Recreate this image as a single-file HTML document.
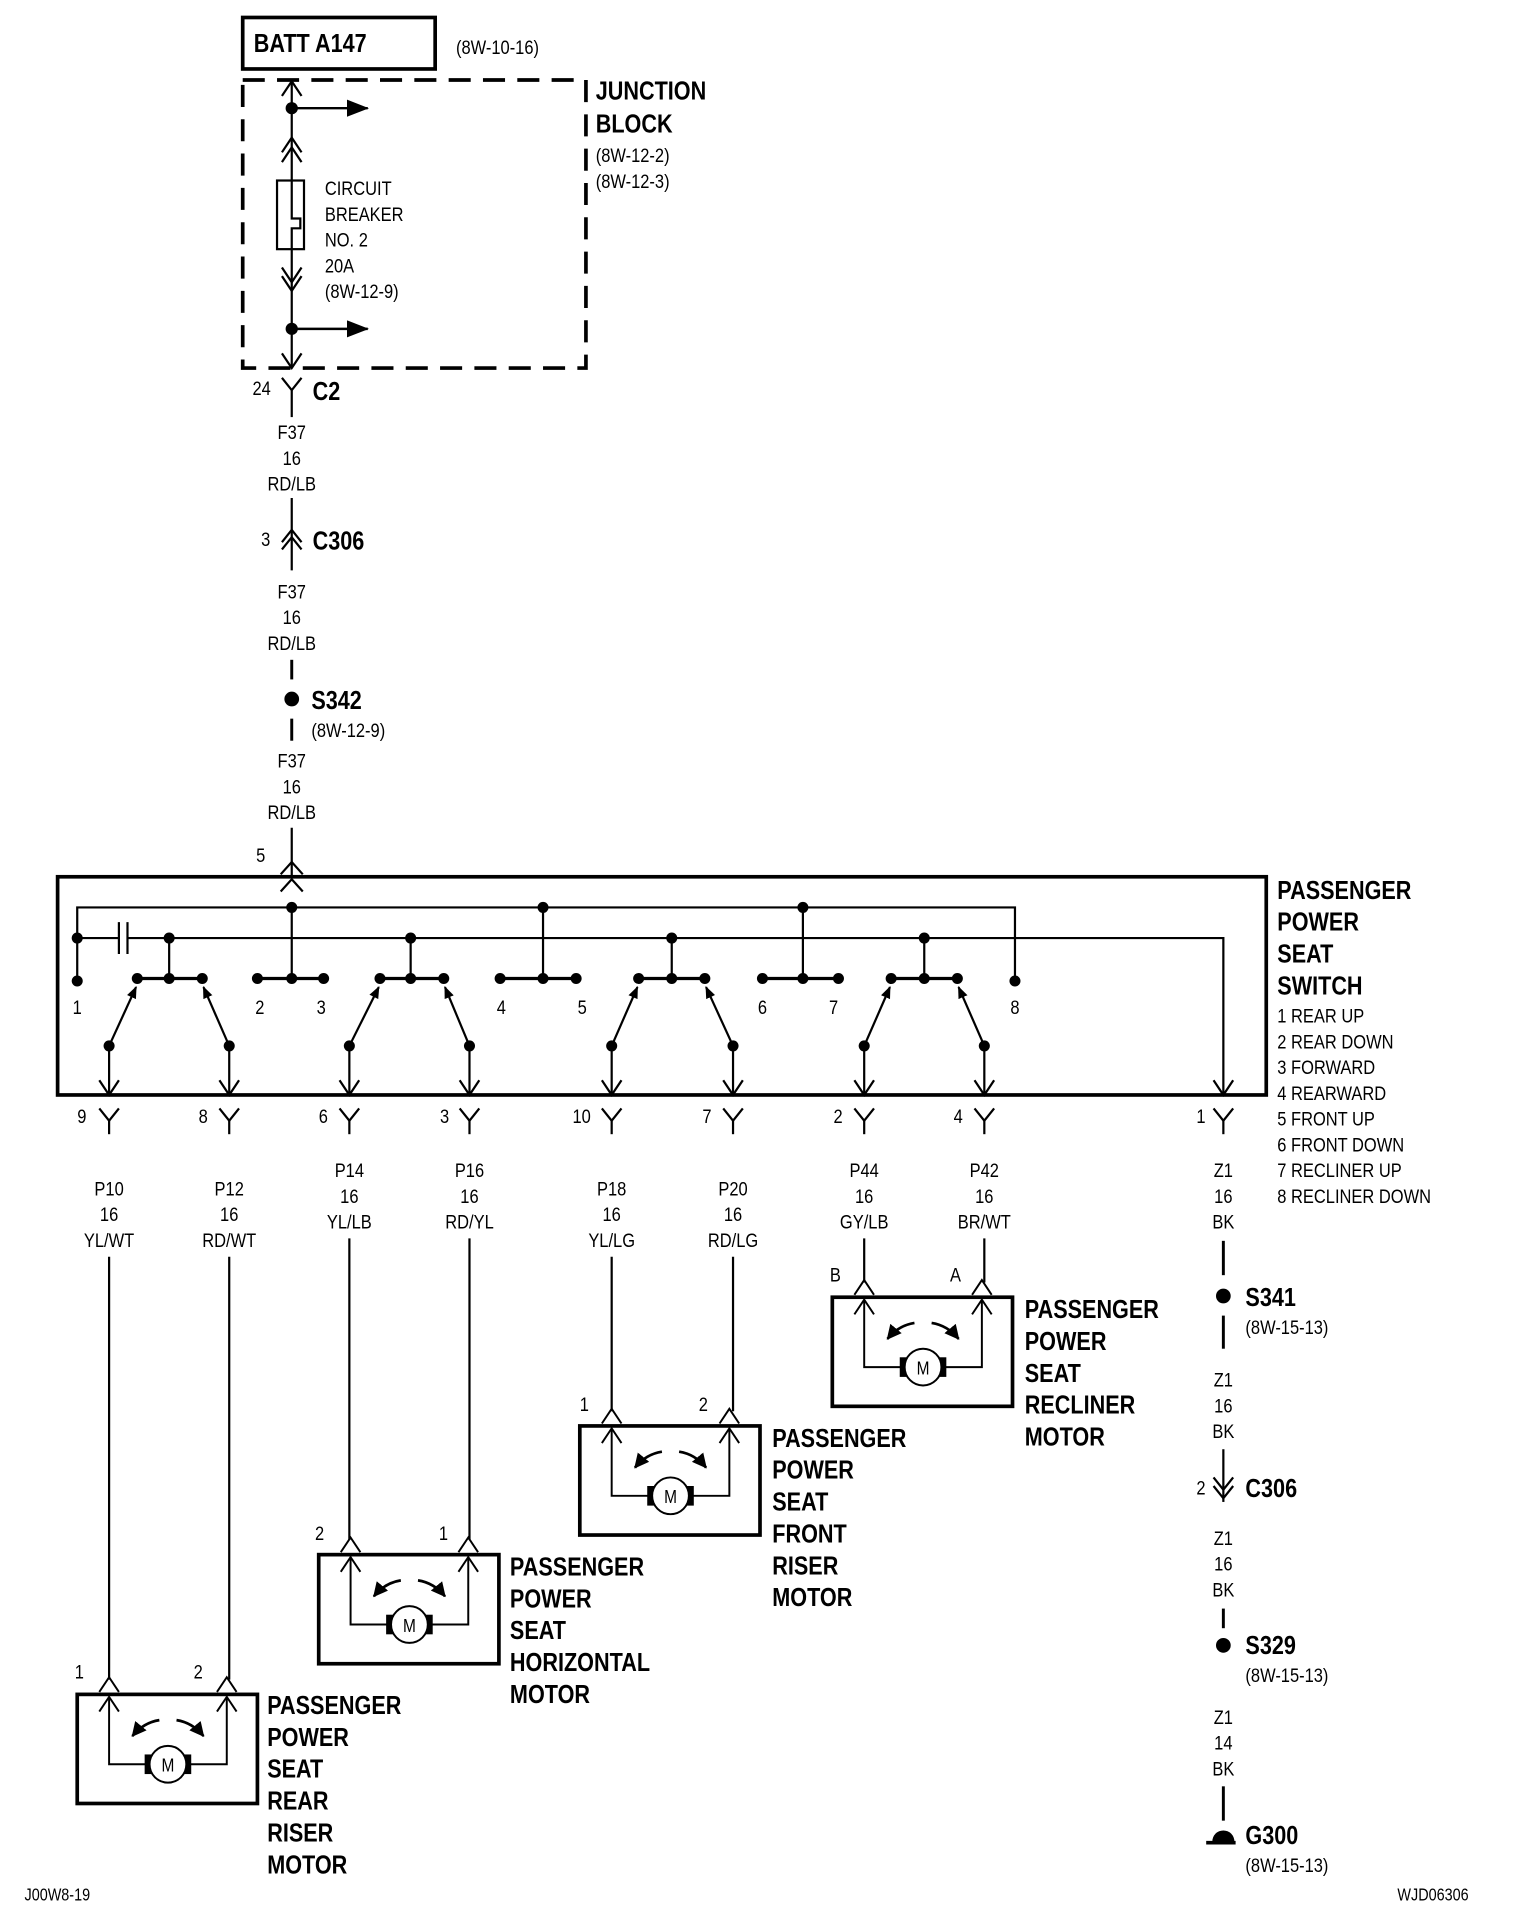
<!DOCTYPE html>
<html><head><meta charset="utf-8"><style>
html,body{margin:0;padding:0;background:#fff;}
svg{display:block;}
text{font-family:"Liberation Sans",sans-serif;fill:#000;transform-box:fill-box;transform-origin:left center;transform:scaleX(0.84);}
.r{font-size:16px;}
.b{font-size:21px;font-weight:bold;}
.m{text-anchor:middle;}
.m text, text.m{transform-origin:center;}
</style></head><body>
<svg width="1520" height="1908" viewBox="0 0 1240 1556" xmlns="http://www.w3.org/2000/svg">
<defs>
<marker id="ah" markerWidth="10" markerHeight="10" refX="9" refY="5" orient="auto" markerUnits="userSpaceOnUse"><path d="M0,1 L10,5 L0,9 z" fill="#000"/></marker>
<marker id="big" markerWidth="18" markerHeight="14" refX="17" refY="7" orient="auto" markerUnits="userSpaceOnUse"><path d="M0,0 L18,7 L0,14 z" fill="#000"/></marker>
<marker id="ma" markerWidth="12" markerHeight="12" refX="11" refY="6" orient="auto" markerUnits="userSpaceOnUse"><path d="M0,0 L12,6 L0,12 z" fill="#000"/></marker>
<g id="motor" fill="none" stroke="#000">
 <rect x="0" y="0" width="147" height="89" stroke-width="3"/>
 <polyline points="18,-2 26,-14 34,-2" stroke-width="1.6"/>
 <polyline points="18,14 26,2 34,14" stroke-width="1.6"/>
 <polyline points="114,-2 122,-14 130,-2" stroke-width="1.6"/>
 <polyline points="114,14 122,2 130,14" stroke-width="1.6"/>
 <polyline points="26,2 26,57 58,57" stroke-width="1.6"/>
 <polyline points="122,2 122,57 90,57" stroke-width="1.6"/>
 <rect x="55" y="49" width="9" height="16" fill="#000" stroke="none"/>
 <rect x="84" y="49" width="9" height="16" fill="#000" stroke="none"/>
 <circle cx="74" cy="57" r="15" stroke-width="1.6" fill="#fff"/>
 <path d="M67,21 Q54,23 45,34" stroke-width="2.2" marker-end="url(#ma)"/>
 <path d="M81,21 Q94,23 103,34" stroke-width="2.2" marker-end="url(#ma)"/>
</g>
</defs>

<g fill="none" stroke="#000" stroke-width="1.8">
<rect x="198" y="14" width="157" height="42" stroke-width="3"/>
<rect x="198" y="65" width="280" height="235" stroke-width="3" stroke-dasharray="18,10"/>
<line x1="238" y1="65" x2="238" y2="300"/>
<polyline points="230,78 238,66 246,78"/>
<line x1="238" y1="88" x2="300" y2="88" marker-end="url(#big)" stroke-width="2"/>
<polyline points="230,124 238,112 246,124"/>
<polyline points="230,132 238,120 246,132"/>
<rect x="226" y="147" width="22" height="56" fill="#fff"/>
<polyline points="238,147 238,178 245,178 245,186 238,186 238,203"/>
<polyline points="230,218 238,230 246,218"/>
<polyline points="230,225 238,237 246,225"/>
<line x1="238" y1="268" x2="300" y2="268" marker-end="url(#big)" stroke-width="2"/>
<polyline points="230,288 238,300 246,288"/>
<polyline points="230,308 238,318 246,308"/>
<line x1="238" y1="318" x2="238" y2="340"/>
<line x1="238" y1="406" x2="238" y2="465"/>
<polyline points="230,442 238,432 246,442"/>
<polyline points="230,448 238,438 246,448"/>
<line x1="238" y1="538" x2="238" y2="554" stroke-width="2.4"/>
<line x1="238" y1="586" x2="238" y2="604" stroke-width="2.4"/>
<line x1="238" y1="675" x2="238" y2="715"/>
<polyline points="229,713 238,703 247,713"/>

<rect x="47" y="715" width="986" height="178" stroke-width="3"/>
<polyline points="229,727 238,717 247,727"/>
<polyline points="63,800 63,740 828,740 828,800"/>
<line x1="238" y1="740" x2="238" y2="798"/>
<line x1="443" y1="740" x2="443" y2="798"/>
<line x1="655" y1="740" x2="655" y2="798"/>
<line x1="63" y1="765" x2="97" y2="765"/>
<line x1="97" y1="752" x2="97" y2="778"/>
<line x1="104" y1="752" x2="104" y2="778"/>
<polyline points="104,765 998,765 998,893"/>
<polyline points="990,881 998,893 1006,881"/>
<line x1="138" y1="765" x2="138" y2="798"/>
<line x1="335" y1="765" x2="335" y2="798"/>
<line x1="548" y1="765" x2="548" y2="798"/>
<line x1="754" y1="765" x2="754" y2="798"/>
<g stroke-width="2.6">
<line x1="112" y1="798" x2="165" y2="798"/>
<line x1="210" y1="798" x2="264" y2="798"/>
<line x1="310" y1="798" x2="362" y2="798"/>
<line x1="408" y1="798" x2="470" y2="798"/>
<line x1="521" y1="798" x2="575" y2="798"/>
<line x1="622" y1="798" x2="684" y2="798"/>
<line x1="727" y1="798" x2="781" y2="798"/>
</g>
<line x1="89" y1="853" x2="111" y2="805" marker-end="url(#ah)"/>
<line x1="187" y1="853" x2="166" y2="805" marker-end="url(#ah)"/>
<line x1="285" y1="853" x2="309" y2="805" marker-end="url(#ah)"/>
<line x1="383" y1="853" x2="363" y2="805" marker-end="url(#ah)"/>
<line x1="499" y1="853" x2="520" y2="805" marker-end="url(#ah)"/>
<line x1="598" y1="853" x2="576" y2="805" marker-end="url(#ah)"/>
<line x1="705" y1="853" x2="726" y2="805" marker-end="url(#ah)"/>
<line x1="803" y1="853" x2="782" y2="805" marker-end="url(#ah)"/>
<g>
<line x1="89" y1="853" x2="89" y2="893"/><polyline points="81,881 89,893 97,881"/>
<line x1="187" y1="853" x2="187" y2="893"/><polyline points="179,881 187,893 195,881"/>
<line x1="285" y1="853" x2="285" y2="893"/><polyline points="277,881 285,893 293,881"/>
<line x1="383" y1="853" x2="383" y2="893"/><polyline points="375,881 383,893 391,881"/>
<line x1="499" y1="853" x2="499" y2="893"/><polyline points="491,881 499,893 507,881"/>
<line x1="598" y1="853" x2="598" y2="893"/><polyline points="590,881 598,893 606,881"/>
<line x1="705" y1="853" x2="705" y2="893"/><polyline points="697,881 705,893 713,881"/>
<line x1="803" y1="853" x2="803" y2="893"/><polyline points="795,881 803,893 811,881"/>
</g>
<g>
<polyline points="81,904 89,914 97,904"/><line x1="89" y1="914" x2="89" y2="925"/>
<polyline points="179,904 187,914 195,904"/><line x1="187" y1="914" x2="187" y2="925"/>
<polyline points="277,904 285,914 293,904"/><line x1="285" y1="914" x2="285" y2="925"/>
<polyline points="375,904 383,914 391,904"/><line x1="383" y1="914" x2="383" y2="925"/>
<polyline points="491,904 499,914 507,904"/><line x1="499" y1="914" x2="499" y2="925"/>
<polyline points="590,904 598,914 606,904"/><line x1="598" y1="914" x2="598" y2="925"/>
<polyline points="697,904 705,914 713,904"/><line x1="705" y1="914" x2="705" y2="925"/>
<polyline points="795,904 803,914 811,904"/><line x1="803" y1="914" x2="803" y2="925"/>
<polyline points="990,904 998,914 1006,904"/><line x1="998" y1="914" x2="998" y2="925"/>
</g>
<line x1="89" y1="1025" x2="89" y2="1370"/>
<line x1="187" y1="1025" x2="187" y2="1370"/>
<line x1="285" y1="1010" x2="285" y2="1256"/>
<line x1="383" y1="1010" x2="383" y2="1256"/>
<line x1="499" y1="1025" x2="499" y2="1151"/>
<line x1="598" y1="1025" x2="598" y2="1151"/>
<line x1="705" y1="1010" x2="705" y2="1046"/>
<line x1="803" y1="1010" x2="803" y2="1046"/>
<line x1="998" y1="1012" x2="998" y2="1040" stroke-width="2.4"/>
<line x1="998" y1="1073" x2="998" y2="1100" stroke-width="2.4"/>
<line x1="998" y1="1182" x2="998" y2="1225"/>
<polyline points="990,1205 998,1215 1006,1205"/>
<polyline points="990,1212 998,1222 1006,1212"/>
<line x1="998" y1="1312" x2="998" y2="1328" stroke-width="2.4"/>
<line x1="998" y1="1457" x2="998" y2="1485" stroke-width="2.4"/>
<line x1="984" y1="1503" x2="1008" y2="1503" stroke-width="3"/>
</g>

<g fill="#000">
<circle cx="238" cy="88" r="5"/><circle cx="238" cy="268" r="5"/>
<circle cx="238" cy="570" r="6"/>
<circle cx="238" cy="740" r="4.5"/><circle cx="443" cy="740" r="4.5"/><circle cx="655" cy="740" r="4.5"/>
<circle cx="63" cy="765" r="4.5"/><circle cx="138" cy="765" r="4.5"/><circle cx="335" cy="765" r="4.5"/><circle cx="548" cy="765" r="4.5"/><circle cx="754" cy="765" r="4.5"/>
<circle cx="63" cy="800" r="4.5"/><circle cx="828" cy="800" r="4.5"/>
<circle cx="112" cy="798" r="4.5"/><circle cx="138" cy="798" r="4.5"/><circle cx="165" cy="798" r="4.5"/>
<circle cx="210" cy="798" r="4.5"/><circle cx="238" cy="798" r="4.5"/><circle cx="264" cy="798" r="4.5"/>
<circle cx="310" cy="798" r="4.5"/><circle cx="335" cy="798" r="4.5"/><circle cx="362" cy="798" r="4.5"/>
<circle cx="408" cy="798" r="4.5"/><circle cx="443" cy="798" r="4.5"/><circle cx="470" cy="798" r="4.5"/>
<circle cx="521" cy="798" r="4.5"/><circle cx="548" cy="798" r="4.5"/><circle cx="575" cy="798" r="4.5"/>
<circle cx="622" cy="798" r="4.5"/><circle cx="655" cy="798" r="4.5"/><circle cx="684" cy="798" r="4.5"/>
<circle cx="727" cy="798" r="4.5"/><circle cx="754" cy="798" r="4.5"/><circle cx="781" cy="798" r="4.5"/>
<circle cx="89" cy="853" r="4.5"/><circle cx="187" cy="853" r="4.5"/><circle cx="285" cy="853" r="4.5"/><circle cx="383" cy="853" r="4.5"/>
<circle cx="499" cy="853" r="4.5"/><circle cx="598" cy="853" r="4.5"/><circle cx="705" cy="853" r="4.5"/><circle cx="803" cy="853" r="4.5"/>
<circle cx="998" cy="1057" r="6"/><circle cx="998" cy="1342" r="6"/>
<path d="M989,1502 A9,9 0 0 1 1007,1502 z"/>
</g>

<use href="#motor" x="679" y="1058"/>
<use href="#motor" x="473" y="1163"/>
<use href="#motor" x="260" y="1268"/>
<use href="#motor" x="63" y="1382"/>
<g class="r m" style="font-size:15px">
<text x="753" y="1121">M</text><text x="547" y="1226">M</text><text x="334" y="1331">M</text><text x="137" y="1445">M</text>
</g>

<text class="b" x="207" y="42">BATT A147</text>
<text class="r" x="372" y="44">(8W-10-16)</text>
<text class="b" x="486" y="81">JUNCTION</text>
<text class="b" x="486" y="108">BLOCK</text>
<text class="r" x="486" y="132">(8W-12-2)</text>
<text class="r" x="486" y="153">(8W-12-3)</text>
<text class="r" x="265" y="159">CIRCUIT</text>
<text class="r" x="265" y="180">BREAKER</text>
<text class="r" x="265" y="201">NO. 2</text>
<text class="r" x="265" y="222">20A</text>
<text class="r" x="265" y="243">(8W-12-9)</text>
<text class="r" x="206" y="322">24</text>
<text class="b" x="255" y="326">C2</text>
<g class="r m">
<text x="238" y="358">F37</text><text x="238" y="379">16</text><text x="238" y="400">RD/LB</text>
<text x="238" y="488">F37</text><text x="238" y="509">16</text><text x="238" y="530">RD/LB</text>
<text x="238" y="626">F37</text><text x="238" y="647">16</text><text x="238" y="668">RD/LB</text>
</g>
<text class="r" x="213" y="445">3</text>
<text class="b" x="255" y="448">C306</text>
<text class="b" x="254" y="578">S342</text>
<text class="r" x="254" y="601">(8W-12-9)</text>
<text class="r" x="209" y="703">5</text>

<g class="r m">
<text x="63" y="827">1</text><text x="212" y="827">2</text><text x="262" y="827">3</text><text x="409" y="827">4</text><text x="475" y="827">5</text><text x="622" y="827">6</text><text x="680" y="827">7</text><text x="828" y="827">8</text>
</g>
<g class="r">
<text x="63" y="916">9</text><text x="162" y="916">8</text><text x="260" y="916">6</text><text x="359" y="916">3</text><text x="467" y="916">10</text><text x="573" y="916">7</text><text x="680" y="916">2</text><text x="778" y="916">4</text><text x="976" y="916">1</text>
</g>
<g class="r m">
<text x="89" y="975">P10</text><text x="89" y="996">16</text><text x="89" y="1017">YL/WT</text>
<text x="187" y="975">P12</text><text x="187" y="996">16</text><text x="187" y="1017">RD/WT</text>
<text x="285" y="960">P14</text><text x="285" y="981">16</text><text x="285" y="1002">YL/LB</text>
<text x="383" y="960">P16</text><text x="383" y="981">16</text><text x="383" y="1002">RD/YL</text>
<text x="499" y="975">P18</text><text x="499" y="996">16</text><text x="499" y="1017">YL/LG</text>
<text x="598" y="975">P20</text><text x="598" y="996">16</text><text x="598" y="1017">RD/LG</text>
<text x="705" y="960">P44</text><text x="705" y="981">16</text><text x="705" y="1002">GY/LB</text>
<text x="803" y="960">P42</text><text x="803" y="981">16</text><text x="803" y="1002">BR/WT</text>
<text x="998" y="960">Z1</text><text x="998" y="981">16</text><text x="998" y="1002">BK</text>
<text x="998" y="1131">Z1</text><text x="998" y="1152">16</text><text x="998" y="1173">BK</text>
<text x="998" y="1260">Z1</text><text x="998" y="1281">16</text><text x="998" y="1302">BK</text>
<text x="998" y="1406">Z1</text><text x="998" y="1427">14</text><text x="998" y="1448">BK</text>
</g>
<text class="b" x="1016" y="1065">S341</text><text class="r" x="1016" y="1088">(8W-15-13)</text>
<text class="r" x="976" y="1219">2</text><text class="b" x="1016" y="1221">C306</text>
<text class="b" x="1016" y="1349">S329</text><text class="r" x="1016" y="1372">(8W-15-13)</text>
<text class="b" x="1016" y="1504">G300</text><text class="r" x="1016" y="1527">(8W-15-13)</text>

<text class="b" x="1042" y="733">PASSENGER</text>
<text class="b" x="1042" y="759">POWER</text>
<text class="b" x="1042" y="785">SEAT</text>
<text class="b" x="1042" y="811">SWITCH</text>
<g class="r">
<text x="1042" y="834">1 REAR UP</text>
<text x="1042" y="855">2 REAR DOWN</text>
<text x="1042" y="876">3 FORWARD</text>
<text x="1042" y="897">4 REARWARD</text>
<text x="1042" y="918">5 FRONT UP</text>
<text x="1042" y="939">6 FRONT DOWN</text>
<text x="1042" y="960">7 RECLINER UP</text>
<text x="1042" y="981">8 RECLINER DOWN</text>
</g>

<g class="r">
<text x="677" y="1045">B</text><text x="775" y="1045">A</text>
<text x="473" y="1151">1</text><text x="570" y="1151">2</text>
<text x="257" y="1256">2</text><text x="358" y="1256">1</text>
<text x="61" y="1369">1</text><text x="158" y="1369">2</text>
</g>
<g class="b">
<text x="836" y="1075">PASSENGER</text><text x="836" y="1101">POWER</text><text x="836" y="1127">SEAT</text><text x="836" y="1153">RECLINER</text><text x="836" y="1179">MOTOR</text>
<text x="630" y="1180">PASSENGER</text><text x="630" y="1206">POWER</text><text x="630" y="1232">SEAT</text><text x="630" y="1258">FRONT</text><text x="630" y="1284">RISER</text><text x="630" y="1310">MOTOR</text>
<text x="416" y="1285">PASSENGER</text><text x="416" y="1311">POWER</text><text x="416" y="1337">SEAT</text><text x="416" y="1363">HORIZONTAL</text><text x="416" y="1389">MOTOR</text>
<text x="218" y="1398">PASSENGER</text><text x="218" y="1424">POWER</text><text x="218" y="1450">SEAT</text><text x="218" y="1476">REAR</text><text x="218" y="1502">RISER</text><text x="218" y="1528">MOTOR</text>
</g>
<text class="r" x="20" y="1550" style="font-size:14px">J00W8-19</text>
<text class="r" x="1140" y="1550" style="font-size:14px">WJD06306</text>
</svg>
</body></html>
